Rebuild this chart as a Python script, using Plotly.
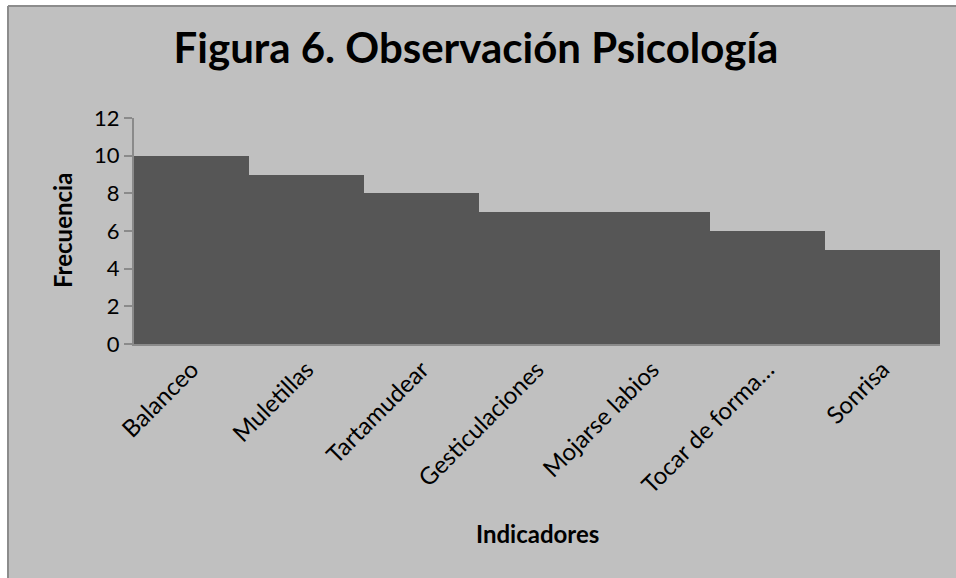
import plotly.graph_objects as go

categorias = ["Balanceo", "Muletillas", "Tartamudear", "Gesticulaciones",
              "Mojarse labios", "Tocar de forma…", "Sonrisa"]
frecuencias = [10, 9, 8, 7, 7, 6, 5]
y_ticks = [0, 2, 4, 6, 8, 10, 12]

W, H = 956, 578
L, R, T, B = 134, 16, 118, 578 - 344
pw, ph = W - L - R, H - T - B

def px_x(p):
    return (p - L) / pw

def px_y(p):
    return (H - B - p) / ph

FONT = "Lato, Carlito, Calibri, sans-serif"

fig = go.Figure()
fig.add_trace(go.Bar(
    x=categorias, y=frecuencias,
    marker=dict(color="#565656", line=dict(width=0)),
    hoverinfo="x+y",
))

fig.update_layout(
    width=W, height=H,
    margin=dict(l=L, r=R, t=T, b=B),
    paper_bgcolor="white",
    plot_bgcolor="rgba(0,0,0,0)",
    bargap=0,
    showlegend=False,
    title=dict(text="<b>Figura 6. Observación Psicología</b>",
               x=476 / W, xanchor="center", y=1 - 48 / H, yanchor="middle",
               font=dict(family=FONT, size=42, color="black")),
    font=dict(family=FONT, color="black"),
    shapes=[
        dict(type="rect", xref="paper", yref="paper", layer="below",
             x0=px_x(8), x1=px_x(W + 10), y0=px_y(H + 10), y1=px_y(6),
             fillcolor="#c0c0c0", line=dict(width=0)),
        dict(type="line", xref="paper", yref="paper",
             x0=px_x(8), x1=px_x(8), y0=px_y(H + 10), y1=px_y(6),
             line=dict(color="#8c8c8c", width=2)),
        dict(type="line", xref="paper", yref="paper",
             x0=px_x(8), x1=px_x(W + 10), y0=px_y(6), y1=px_y(6),
             line=dict(color="#8c8c8c", width=2)),
    ],
    annotations=[
        dict(text="<b>Indicadores</b>", xref="paper", yref="paper",
             x=0.5, y=px_y(533), xanchor="center", yanchor="middle",
             showarrow=False, font=dict(family=FONT, size=24, color="black")),
        dict(text="<b>Frecuencia</b>", xref="paper", yref="paper",
             x=px_x(62), y=px_y(231), xanchor="center", yanchor="middle",
             textangle=-90, showarrow=False,
             font=dict(family=FONT, size=24, color="black")),
    ],
)

fig.update_xaxes(
    showline=True, linecolor="#8a8a8a", linewidth=2,
    tickangle=-45, tickfont=dict(family=FONT, size=24, color="black"),
    ticks="", showgrid=False,
)
fig.update_yaxes(
    range=[0, 12], tickvals=y_ticks, showgrid=False, zeroline=False,
    showline=True, linecolor="#8a8a8a", linewidth=2,
    ticks="outside", ticklen=8, tickcolor="#8a8a8a", tickwidth=2,
    tickfont=dict(family=FONT, size=22, color="black"),
)

fig.write_html(
    "out.html",
    config={"displayModeBar": False},
    post_script="document.body.style.margin='0';"
                "document.documentElement.style.overflow='hidden';",
)
